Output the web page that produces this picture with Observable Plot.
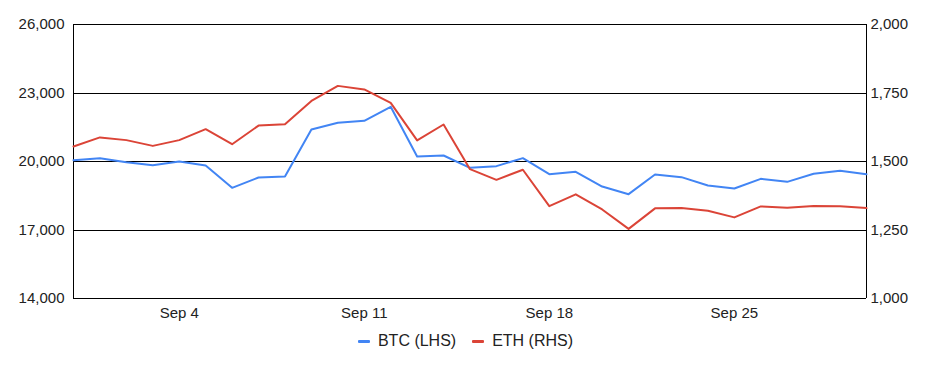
<!DOCTYPE html>
<html>
<head>
<meta charset="utf-8">
<script src="https://cdn.jsdelivr.net/npm/d3@7"></script>
<script src="https://cdn.jsdelivr.net/npm/@observablehq/plot@0.6"></script>
<style>
  body { margin: 0; background: #fff; font-family: "Liberation Sans", Arial, sans-serif; }
  #legend { display: flex; justify-content: center; align-items: center; height: 32px; font-size: 16px; color: #222; }
  .item { display: flex; align-items: center; margin: 0 8px; }
  .sw { width: 12px; height: 3px; margin-right: 8px; border-radius: 1px; }
</style>
</head>
<body>
<div id="chart"></div>
<div id="legend"></div>
<script>
const dates = ["2022-08-31","2022-09-01","2022-09-02","2022-09-03","2022-09-04","2022-09-05","2022-09-06","2022-09-07","2022-09-08","2022-09-09","2022-09-10","2022-09-11","2022-09-12","2022-09-13","2022-09-14","2022-09-15","2022-09-16","2022-09-17","2022-09-18","2022-09-19","2022-09-20","2022-09-21","2022-09-22","2022-09-23","2022-09-24","2022-09-25","2022-09-26","2022-09-27","2022-09-28","2022-09-29","2022-09-30"];
const btc = [20058, 20146, 19971, 19839, 20000, 19825, 18847, 19299, 19343, 21402, 21694, 21781, 22394, 20219, 20263, 19723, 19796, 20146, 19445, 19547, 18905, 18569, 19431, 19314, 18949, 18817, 19241, 19109, 19460, 19591, 19445];
const eth = [1555, 1588, 1578, 1557, 1578, 1618, 1563, 1631, 1636, 1721, 1776, 1763, 1714, 1577, 1635, 1472, 1433, 1470, 1337, 1380, 1325, 1254, 1329, 1330, 1320, 1296, 1336, 1331, 1338, 1337, 1330];
const leftTicks = [14000, 17000, 20000, 23000, 26000];
const rightTicks = [1000, 1250, 1500, 1750, 2000];
const xTicks = ["2022-09-04", "2022-09-11", "2022-09-18", "2022-09-25"];
const seriesNames = ["BTC (LHS)", "ETH (RHS)"];
const colors = ["#4285F4", "#DB4437"];

// map right-axis (ETH) values onto the left scale
const toLeft = e => leftTicks[0] + (e - rightTicks[0]) * (leftTicks[4] - leftTicks[0]) / (rightTicks[4] - rightTicks[0]);
const toRight = v => rightTicks[0] + (v - leftTicks[0]) * (rightTicks[4] - rightTicks[0]) / (leftTicks[4] - leftTicks[0]);

const data = dates.map((d, i) => ({date: new Date(d), btc: btc[i], eth: eth[i], ethL: toLeft(eth[i])}));
const xDomain = [new Date(dates[0]), new Date(dates[dates.length - 1])];
const fmt = d3.format(",");

const chart = Plot.plot({
  width: 931,
  height: 325,
  marginLeft: 73,
  marginRight: 65,
  marginTop: 24,
  marginBottom: 27,
  style: {fontFamily: "'Liberation Sans', Arial, sans-serif", fontSize: "15px", color: "#222", background: "#fff"},
  x: {type: "utc", domain: xDomain},
  y: {domain: [leftTicks[0], leftTicks[4]]},
  marks: [
    Plot.ruleY(leftTicks, {stroke: "#000", strokeWidth: 1, shapeRendering: "crispEdges"}),
    Plot.ruleX(xDomain, {stroke: "#000", strokeWidth: 1, shapeRendering: "crispEdges"}),
    Plot.axisY({ticks: leftTicks, tickSize: 0, tickPadding: 9, tickFormat: fmt, label: null}),
    Plot.axisY({anchor: "right", ticks: leftTicks, tickSize: 0, tickPadding: 4, tickFormat: d => fmt(Math.round(toRight(d))), label: null}),
    Plot.axisX({ticks: xTicks.map(d => new Date(d)), tickSize: 0, tickPadding: 9, tickFormat: d3.utcFormat("%b %-d"), label: null}),
    Plot.line(data, {x: "date", y: "btc", stroke: colors[0], strokeWidth: 2}),
    Plot.line(data, {x: "date", y: "ethL", stroke: colors[1], strokeWidth: 2})
  ]
});
document.getElementById("chart").appendChild(chart);

const legend = document.getElementById("legend");
seriesNames.forEach((n, i) => {
  const it = document.createElement("div");
  it.className = "item";
  const sw = document.createElement("div");
  sw.className = "sw";
  sw.style.background = colors[i];
  const t = document.createElement("span");
  t.textContent = n;
  it.appendChild(sw);
  it.appendChild(t);
  legend.appendChild(it);
});
</script>
</body>
</html>
